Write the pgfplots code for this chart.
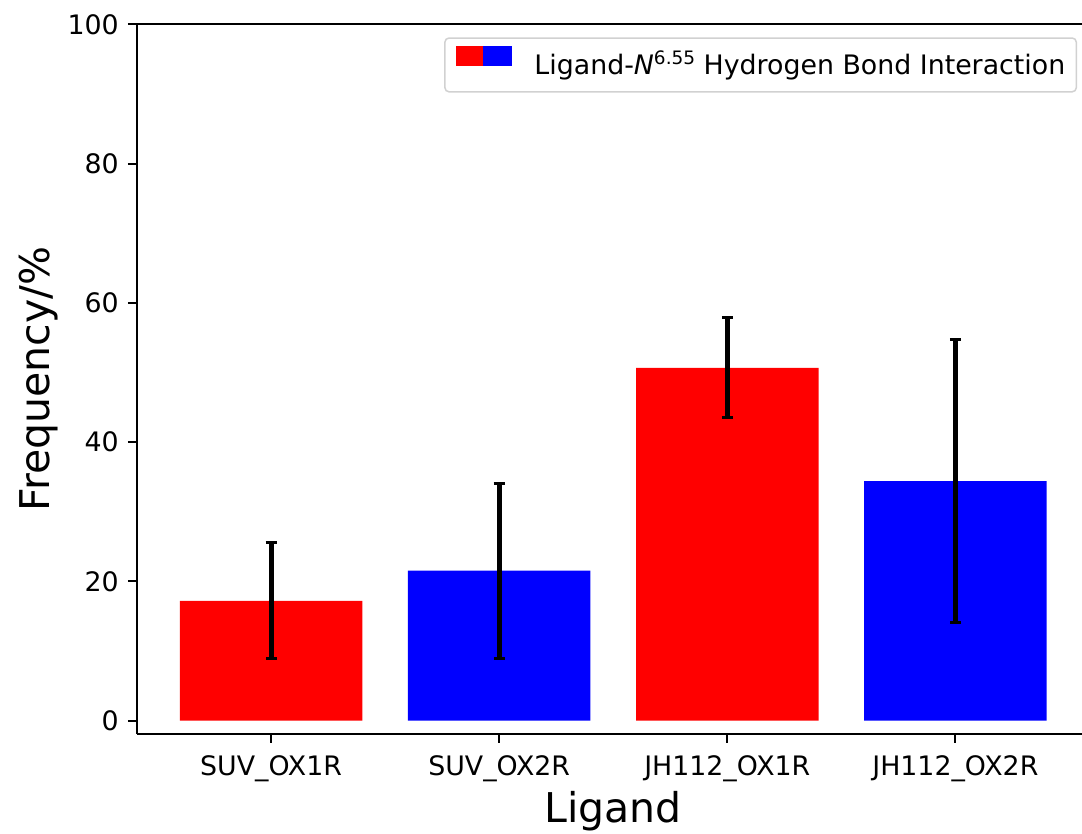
\documentclass[border=0pt]{standalone}
\usepackage{fontspec}
\setmainfont{DejaVu Sans}
\usepackage{pgfplots}
\pgfplotsset{compat=1.18}

\newcommand{\ticksize}{\fontsize{26.8}{32}\selectfont}
\newcommand{\labelsize}{\fontsize{41}{49}\selectfont}

\begin{document}
\begin{tikzpicture}
\begin{axis}[
  scale only axis,
  width=945pt, height=709.7pt,
  xmin=-0.5877, xmax=3.555,
  ymin=-1.91, ymax=100,
  axis y line*=left,
  axis line style={line width=2pt, black},
  xtick={0,1,2,3},
  xticklabels={SUV\_OX1R, SUV\_OX2R, JH112\_OX1R, JH112\_OX2R},
  ytick={0,20,40,60,80,100},
  xtick pos=bottom, ytick pos=left,
  tick align=outside,
  major tick length=9pt,
  tick style={line width=2pt, black},
  /pgf/number format/assume math mode=true,
  tick label style={font=\ticksize},
  yticklabel style={inner sep=0pt, xshift=-9pt},
  xticklabel style={inner sep=0pt, yshift=-12pt},
  xlabel={Ligand},
  ylabel={Frequency/\%},
  xlabel style={font=\labelsize, at={(axis cs:1.5,-1.91)}, anchor=base, inner sep=0pt, yshift=-88pt},
  ylabel style={font=\labelsize, at={(axis description cs:-0.0921,0.5)}, anchor=base, rotate=0, inner sep=0pt},
  legend style={
    at={(rel axis cs:1,1)}, anchor=north east, xshift=-5pt, yshift=-13pt,
    draw=black!18, line width=1.5pt, rounded corners=4pt,
    inner xsep=11pt, inner ysep=8pt,
    font=\ticksize,
    nodes={inner sep=0pt, text height=27pt, text depth=9pt},
    /tikz/every odd column/.append style={column sep=22pt},
  },
  legend cell align=left,
  error bars/error bar style={line width=5pt, black},
  error bars/error mark options={rotate=90, line width=3pt, mark size=5.5pt, black},
]
% red bars: SUV_OX1R and JH112_OX1R
\addplot[forget plot, ybar, bar width=0.8, bar shift=0pt, fill=red, draw=none,
  error bars/.cd, y dir=both, y explicit]
  coordinates {(0,17.2) +- (0,8.33) (2,50.65) +- (0,7.18)};
% blue bars: SUV_OX2R and JH112_OX2R
\addplot[forget plot, ybar, bar width=0.8, bar shift=0pt, fill=blue, draw=none,
  error bars/.cd, y dir=both, y explicit]
  coordinates {(1,21.55) +- (0,12.55) (3,34.4) +- (0,20.34)};
\addlegendimage{legend image code/.code={
  \fill[red, sharp corners] (0pt,1pt) rectangle (27.5pt,19pt);
  \fill[blue, sharp corners] (27.5pt,1pt) rectangle (55pt,19pt);}}
\addlegendentry{Ligand-\textit{N}\raisebox{10pt}{\fontsize{18.5}{20}\selectfont 6.55} Hydrogen Bond Interaction}
\end{axis}
\pgfresetboundingbox
\path (-137pt,-99pt) rectangle (945pt,734pt);
\end{tikzpicture}
\end{document}
